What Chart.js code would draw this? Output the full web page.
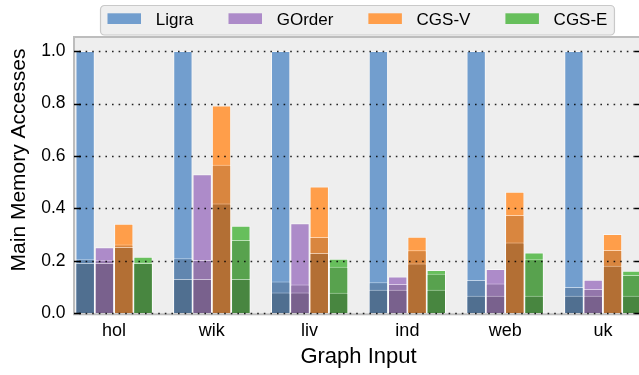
<!DOCTYPE html>
<html>
<head>
<meta charset="utf-8">
<script src="https://cdn.jsdelivr.net/npm/chart.js@4.4.1/dist/chart.umd.min.js"></script>
<style>
  html, body { margin: 0; padding: 0; background: #ffffff; overflow: hidden; width: 639px; height: 375px; }
  canvas { display: block; }
</style>
</head>
<body>
<canvas id="chart" width="646" height="375"></canvas>
<script>
// Graph inputs along the x axis
const categories = ['hol', 'wik', 'liv', 'ind', 'web', 'uk'];
const seriesNames = ['Ligra', 'GOrder', 'CGS-V', 'CGS-E'];
const yTickValues = [0.0, 0.2, 0.4, 0.6, 0.8, 1.0];

// Normalised main memory accesses: full bar, middle layer, bottom layer
const ligraTotal  = [1.00, 1.00, 1.00, 1.00, 1.00, 1.00];
const ligraMid    = [0.206, 0.210, 0.121, 0.118, 0.127, 0.100];
const ligraLow    = [0.192, 0.131, 0.079, 0.090, 0.067, 0.067];

const gorderTotal = [0.252, 0.530, 0.343, 0.140, 0.169, 0.128];
const gorderMid   = [0.202, 0.203, 0.110, 0.112, 0.114, 0.093];
const gorderLow   = [0.192, 0.131, 0.079, 0.090, 0.067, 0.067];

const cgsvTotal   = [0.342, 0.793, 0.484, 0.292, 0.464, 0.302];
const cgsvMid     = [0.262, 0.567, 0.291, 0.240, 0.375, 0.241];
const cgsvLow     = [0.253, 0.419, 0.230, 0.190, 0.270, 0.181];

const cgseTotal   = [0.216, 0.334, 0.208, 0.165, 0.232, 0.162];
const cgseMid     = [0.194, 0.280, 0.178, 0.151, 0.206, 0.146];
const cgseLow     = [0.192, 0.131, 0.078, 0.090, 0.067, 0.067];

// Palette and shading
const baseColors = [[114, 158, 206], [173, 139, 201], [255, 158, 74], [103, 191, 92]];
const layerShade = { low: 0.70, mid: 0.85, total: 1.0 };
const FONT = "'Liberation Sans', Arial, Helvetica, sans-serif";

function shade(rgb, f) {
  return 'rgb(' + rgb.map(c => Math.round(c * f)).join(',') + ')';
}

const layers = [
  { key: 'low',   values: [ligraLow, gorderLow, cgsvLow, cgseLow] },
  { key: 'mid',   values: [ligraMid, gorderMid, cgsvMid, cgseMid] },
  { key: 'total', values: [ligraTotal, gorderTotal, cgsvTotal, cgseTotal] }
];

// Bottom layers come first so they are painted on top of the taller ones
const datasets = [];
layers.forEach(layer => {
  layer.values.forEach((vals, s) => {
    datasets.push({
      label: seriesNames[s],
      stack: seriesNames[s],
      data: vals.map((v, i) => ({ x: i + 0.4, y: v })),
      backgroundColor: shade(baseColors[s], layerShade[layer.key]),
      borderColor: 'rgba(255,255,255,0.55)',
      borderWidth: 1,
      borderSkipped: 'start',
      categoryPercentage: 0.79,
      barPercentage: 1.0
    });
  });
});

const plotDecor = {
  id: 'plotDecor',
  beforeDatasetsDraw(chart) {
    const { ctx, chartArea: a } = chart;
    ctx.save();
    ctx.fillStyle = '#eeeeee';
    ctx.fillRect(a.left, a.top, a.right - a.left, a.bottom - a.top);
    ctx.restore();
  },
  afterDatasetsDraw(chart) {
    const { ctx, chartArea: a } = chart;
    const y = chart.scales.y;
    ctx.save();
    // frame
    ctx.strokeStyle = '#bdbdbd';
    ctx.lineWidth = 2;
    ctx.strokeRect(a.left - 1, a.top - 1, a.right - a.left + 2, a.bottom - a.top + 2);
    // dotted grid over the bars
    ctx.strokeStyle = 'rgba(0,0,0,0.85)';
    ctx.lineWidth = 1.3;
    ctx.setLineDash([1.6, 5]);
    yTickValues.forEach(v => {
      const py = Math.round(y.getPixelForValue(v)) + 0.5;
      ctx.beginPath();
      ctx.moveTo(a.left + 4, py);
      ctx.lineTo(a.right, py);
      ctx.stroke();
    });
    // inward tick marks on both sides
    ctx.setLineDash([]);
    ctx.strokeStyle = '#000';
    ctx.lineWidth = 1.3;
    yTickValues.forEach(v => {
      const py = Math.round(y.getPixelForValue(v)) + 0.5;
      ctx.beginPath();
      ctx.moveTo(a.left - 1, py); ctx.lineTo(a.left + 6, py);
      ctx.moveTo(a.right + 1, py); ctx.lineTo(a.right - 7, py);
      ctx.stroke();
    });
    ctx.restore();
  },
  afterDraw(chart) {
    const { ctx } = chart;
    ctx.save();
    // legend frame
    ctx.font = '17px ' + FONT;
    const boxLeft = 100, boxTop = 5, boxBottom = 34.5;
    let x = boxLeft + 7.5;
    const items = seriesNames.map((name, s) => {
      const it = { name, s, swatch: x, text: x + 48.2 };
      x = it.text + ctx.measureText(name).width + 35;
      return it;
    });
    const last = items[items.length - 1];
    const boxRight = last.text + ctx.measureText(last.name).width + 6.5;
    ctx.beginPath();
    ctx.roundRect(boxLeft + 0.5, boxTop + 0.5, boxRight - boxLeft, boxBottom - boxTop, 4);
    ctx.fillStyle = '#efefef';
    ctx.fill();
    ctx.strokeStyle = '#c9c9c9';
    ctx.lineWidth = 1.2;
    ctx.stroke();
    items.forEach(it => {
      ctx.fillStyle = shade(baseColors[it.s], 1);
      ctx.fillRect(it.swatch, 13.3, 33.5, 10.7);
      ctx.fillStyle = '#000';
      ctx.textBaseline = 'alphabetic';
      ctx.textAlign = 'left';
      ctx.fillText(it.name, it.text, 25);
    });
    // y axis title
    ctx.translate(25, 160);
    ctx.rotate(-Math.PI / 2);
    ctx.font = '21px ' + FONT;
    ctx.textAlign = 'center';
    ctx.textBaseline = 'alphabetic';
    ctx.fillStyle = '#000';
    ctx.fillText('Main Memory Accesses', 0, 0);
    ctx.restore();
  }
};

new Chart(document.getElementById('chart'), {
  type: 'bar',
  data: { datasets },
  options: {
    responsive: false,
    animation: false,
    layout: { padding: { top: 38, right: 4, left: 0, bottom: 0 } },
    plugins: { legend: { display: false }, tooltip: { enabled: false } },
    scales: {
      x: {
        type: 'linear',
        min: 0,
        max: 5.8,
        offset: false,
        grid: { display: false, drawTicks: false },
        border: { display: false },
        afterBuildTicks: s => { s.ticks = categories.map((c, i) => ({ value: i + 0.4 })); },
        afterFit: s => { s.height = 61.7; },
        ticks: {
          autoSkip: false,
          maxRotation: 0,
          padding: 6.7,
          color: '#000',
          font: { family: FONT, size: 18 },
          callback: (v, idx) => categories[idx]
        },
        title: {
          display: true,
          text: 'Graph Input',
          color: '#000',
          font: { family: FONT, size: 22 },
          padding: { top: 0, bottom: 4.4 }
        }
      },
      y: {
        min: 0,
        max: 1.05,
        stacked: false,
        grid: { display: false, drawTicks: false },
        border: { display: false },
        afterBuildTicks: s => { s.ticks = yTickValues.map(v => ({ value: v })); },
        afterFit: s => { s.width = 75; },
        ticks: {
          padding: 9.5,
          color: '#000',
          font: { family: FONT, size: 17.5 },
          callback: v => Number(v).toFixed(1)
        }
      }
    }
  },
  plugins: [plotDecor]
});
</script>
</body>
</html>
